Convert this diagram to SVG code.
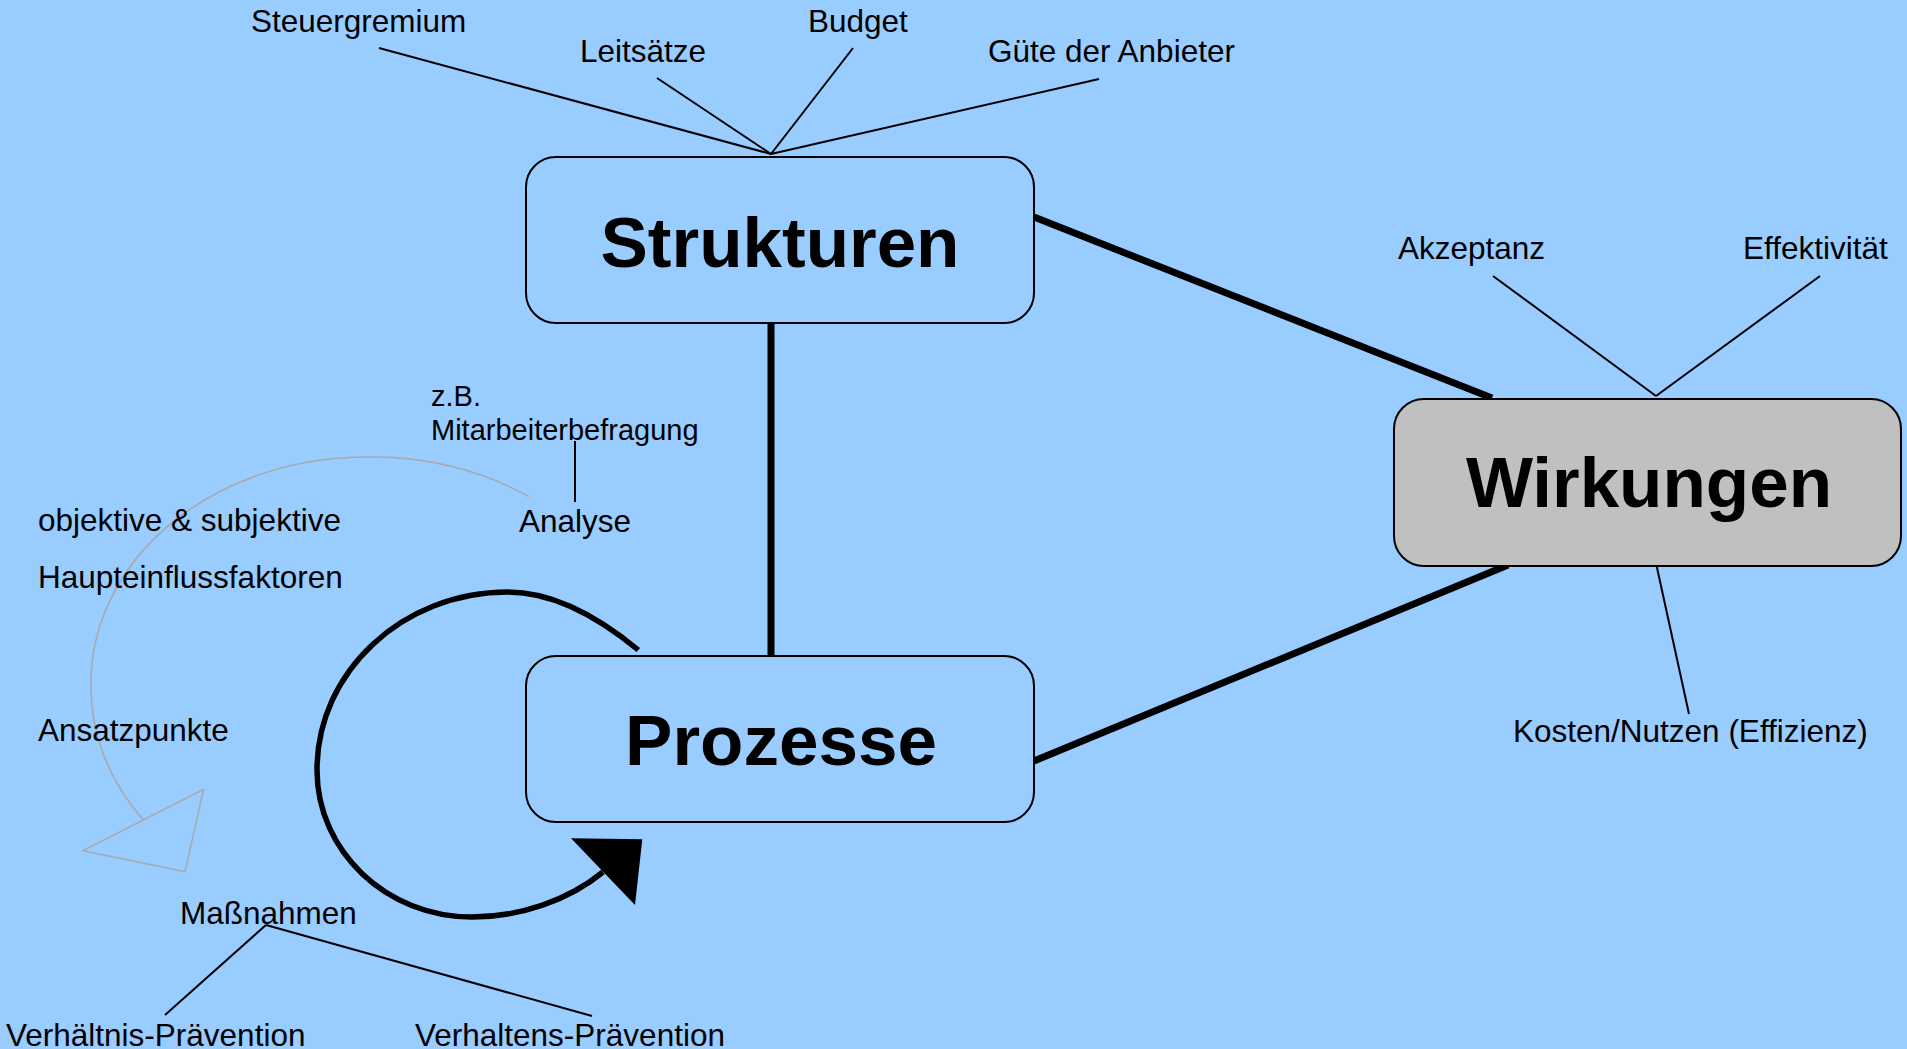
<svg xmlns="http://www.w3.org/2000/svg" width="1907" height="1049" viewBox="0 0 1907 1049">
<style>
.t{font-family:"Liberation Sans",Arial,sans-serif;font-size:31.5px;fill:#000}
.s{font-family:"Liberation Sans",Arial,sans-serif;font-size:29px;fill:#000}
.big{font-family:"Liberation Sans",Arial,sans-serif;font-size:71px;font-weight:bold;fill:#000;text-anchor:middle}
.box{stroke:#000;stroke-width:2}
.thin{stroke:#000;stroke-width:2;fill:none}
.thick{stroke:#000;stroke-width:7;fill:none}
</style>
<rect x="0" y="0" width="1907" height="1049" fill="#99CCFF"/>
<g id="connectors">
<line class="thick" x1="771" y1="323" x2="771" y2="656"/>
<line class="thick" x1="1034" y1="217" x2="1492" y2="398"/>
<line class="thick" x1="1034" y1="761" x2="1508" y2="565"/>
<line class="thin" x1="379" y1="48" x2="771" y2="154"/>
<line class="thin" x1="657" y1="78" x2="771" y2="154"/>
<line class="thin" x1="853" y1="48" x2="771" y2="154"/>
<line class="thin" x1="1099" y1="79" x2="771" y2="154"/>
<line class="thin" x1="1493" y1="276" x2="1656" y2="396"/>
<line class="thin" x1="1820" y1="276" x2="1656" y2="396"/>
<line class="thin" x1="1656" y1="563" x2="1689" y2="714"/>
<line class="thin" x1="575" y1="441" x2="575" y2="502"/>
<line class="thin" x1="266" y1="925" x2="165" y2="1015"/>
<line class="thin" x1="266" y1="925" x2="592" y2="1016"/>
<path d="M528.8,496.7 A275,226 0 0 0 366,457 A275,226 0 0 0 91,683 A275,226 0 0 0 143.4,820" fill="none" stroke="#A8A8A8" stroke-width="1.5"/>
<polygon points="203.5,789.3 83,850.7 185,871.7" fill="none" stroke="#A8A8A8" stroke-width="1.5"/>
<path d="M638.3,650 C602,620 555,592 508,592 C402.5,592 317,671.7 317,770 C317,851.2 386.4,917 472,917 C520,917 568.4,900.4 603,872" fill="none" stroke="#000" stroke-width="5.5"/>
<polygon points="571,838.3 642.3,839.3 635,905" fill="#000"/>
</g>
<g id="strukturen">
<rect class="box" x="526" y="157" width="508" height="166" rx="30" ry="30" fill="#99CCFF"/>
<text class="big" x="780" y="267">Strukturen</text>
</g>
<g id="prozesse">
<rect class="box" x="526" y="656" width="508" height="166" rx="30" ry="30" fill="#99CCFF"/>
<text class="big" x="781" y="765">Prozesse</text>
</g>
<g id="wirkungen">
<rect class="box" x="1394" y="399" width="507" height="167" rx="30" ry="30" fill="#C0C0C0"/>
<text class="big" x="1649" y="507">Wirkungen</text>
</g>
<g id="labels">
<text class="t" x="251" y="32">Steuergremium</text>
<text class="t" x="580" y="62">Leitsätze</text>
<text class="t" x="808" y="32">Budget</text>
<text class="t" x="988" y="62">Güte der Anbieter</text>
<text class="t" x="1398" y="259">Akzeptanz</text>
<text class="t" x="1743" y="259">Effektivität</text>
<text class="t" x="1513" y="742">Kosten/Nutzen (Effizienz)</text>
<text class="s" x="431" y="406">z.B.</text>
<text class="s" x="431" y="440">Mitarbeiterbefragung</text>
<text class="t" x="519" y="532">Analyse</text>
<text class="t" x="38" y="531">objektive &amp; subjektive</text>
<text class="t" x="38" y="588">Haupteinflussfaktoren</text>
<text class="t" x="38" y="741">Ansatzpunkte</text>
<text class="t" x="180" y="924">Maßnahmen</text>
<text class="t" x="6" y="1046">Verhältnis-Prävention</text>
<text class="t" x="415" y="1046">Verhaltens-Prävention</text>
</g>
</svg>
